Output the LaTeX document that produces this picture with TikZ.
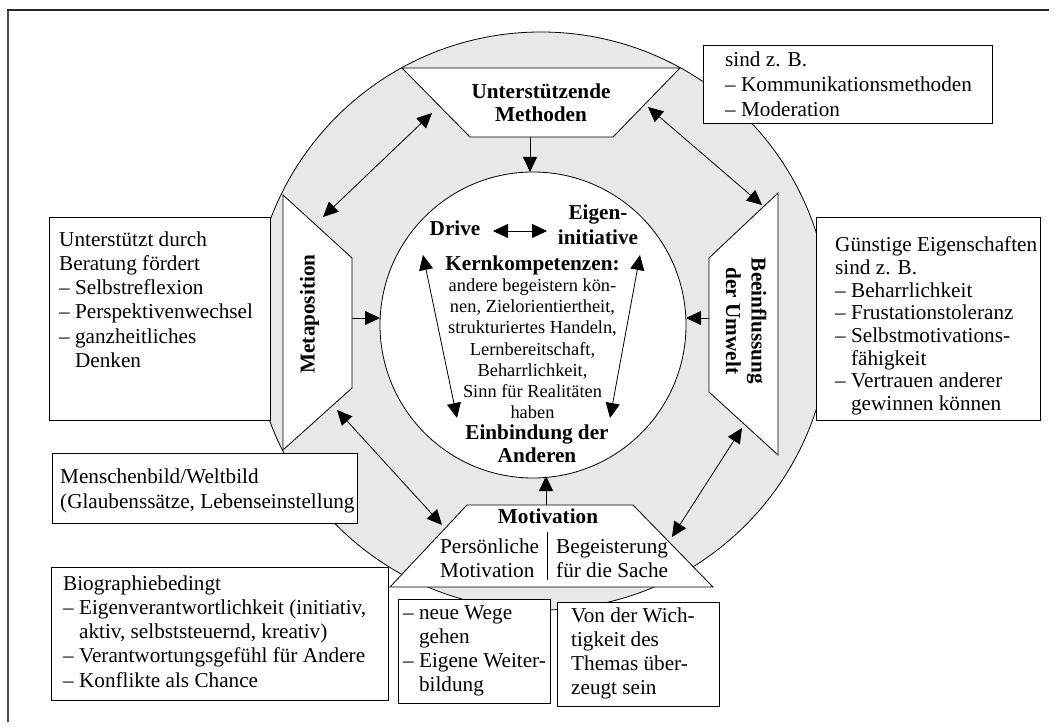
\documentclass[tikz,border=0pt]{standalone}
\usepackage{fontspec}
\setmainfont{Liberation Serif}
\usetikzlibrary{arrows.meta}
\definecolor{ringgray}{RGB}{232,232,232}
\newcommand{\mylines}[2]{\begin{tabular}[t]{@{}#1@{}}#2\end{tabular}}
\begin{document}
\begin{tikzpicture}[x=1pt,y=-1pt,
  txt/.style={font=\fontsize{21.2}{24.3}\selectfont, inner sep=0pt},
  txtr/.style={font=\fontsize{21.2}{22.7}\selectfont, inner sep=0pt},
  btxt/.style={font=\fontsize{21.2}{24.5}\selectfont\bfseries, inner sep=0pt},
  core/.style={font=\fontsize{18.4}{21.1}\selectfont, inner sep=0pt},
  box/.style={draw, fill=white, line width=1.1pt, inner sep=0pt, anchor=north west},
  trap/.style={draw, fill=white, line width=0.8pt, line join=miter},
  dbl/.style={line width=0.8pt, {Triangle[length=15pt,width=14pt]}-{Triangle[length=15pt,width=14pt]}},
  sgl/.style={line width=0.8pt, -{Triangle[length=15pt,width=14pt]}}
]
\useasboundingbox (0,0) rectangle (1056,727);
% frame
\draw[line width=2pt, black!70] (8,722) -- (8,10);
\draw[line width=1.4pt, black!85] (7,10) -- (1049,10);

% ring and core
\node[draw, fill=ringgray, circle, minimum size=578pt, inner sep=0pt, line width=0.8pt] (ring) at (541,321) {};
\node[draw, fill=white, circle, minimum size=306pt, inner sep=0pt, line width=0.8pt] (kern) at (533,325) {};

% trapezoids
\draw[trap] (402,68) -- (680,68) -- (613,137) -- (470,137) -- cycle;
\draw[trap] (283,195) -- (352,258) -- (352,388) -- (283,450) -- cycle;
\draw[trap] (778,193) -- (709,258) -- (709,392) -- (778,455) -- cycle;
\draw[trap] (467,505) -- (633,505) -- (713,587) -- (390,587) -- cycle;
\draw[line width=0.8pt] (547,532) -- (547,580);

% text boxes
\node[box, minimum width=221pt, minimum height=203pt] (bLeft) at (49,217) {};
\node[box, minimum width=289pt, minimum height=78pt] (bTop) at (703,45) {};
\node[box, minimum width=224pt, minimum height=203pt] (bRight) at (816,217) {};
\node[box, minimum width=305pt, minimum height=70pt] (bMensch) at (52,453) {};
\node[box, minimum width=337pt, minimum height=133pt] (bBio) at (51,567) {};
\node[box, minimum width=152pt, minimum height=104pt] (bWege) at (398,599) {};
\node[box, minimum width=162pt, minimum height=104pt] (bWich) at (557,602) {};

% box texts
\node[txt, anchor=base west] (tLeft) at (59,246) {\mylines{l}{Unterstützt durch\\Beratung fördert\\– Selbstreflexion\\– Perspektivenwechsel\\– ganzheitliches\\\phantom{–\ }Denken}};
\node[txt, font=\fontsize{21.2}{25}\selectfont, anchor=base west] (tTop) at (725,66.7) {\mylines{l}{sind z. B.\\– Kommunikationsmethoden\\– Moderation}};
\node[txtr, anchor=base west] (tRight) at (835,251.7) {\mylines{l}{Günstige Eigenschaften\\sind z. B.\\– Beharrlichkeit\\– Frustationstoleranz\\– Selbstmotivations-\\\phantom{–\ }fähigkeit\\– Vertrauen anderer\\\phantom{–\ }gewinnen können}};
\node[txt, font=\fontsize{21.2}{25}\selectfont, anchor=base west] (tMensch) at (60,483) {\mylines{l}{Menschenbild/Weltbild\\(Glaubenssätze, Lebenseinstellung}};
\node[txt, anchor=base west] (tBio) at (63,590) {\mylines{l}{Biographiebedingt\\– Eigenverantwortlichkeit (initiativ,\\\phantom{–\ }aktiv, selbststeuernd, kreativ)\\– Verantwortungsgefühl für Andere\\– Konflikte als Chance}};
\node[txt, anchor=base west] (tWege) at (403,619) {\mylines{l}{– neue Wege\\\phantom{–\ }gehen\\– Eigene Weiter-\\\phantom{–\ }bildung}};
\node[txt, anchor=base west] (tWich) at (571,622) {\mylines{l}{Von der Wich-\\tigkeit des\\Themas über-\\zeugt sein}};

% trapezoid labels
\node[btxt, font=\fontsize{21.2}{23.4}\selectfont\bfseries, anchor=base] (tMeth) at (541,98.3) {\mylines{c}{Unterstützende\\Methoden}};
\node[btxt, rotate=90, anchor=center] (tMeta) at (309.5,314) {Metaposition};
\node[btxt, font=\fontsize{21.2}{25.5}\selectfont\bfseries, rotate=-90, anchor=center] (tBeein) at (744,321) {\mylines{c}{Beeinflussung\\der Umwelt}};
\node[btxt, anchor=base] (tMot) at (548,523) {Motivation};
\node[txt, font=\fontsize{21.2}{24}\selectfont, anchor=base west] (tPers) at (440,553) {\mylines{l}{Persönliche\\Motivation}};
\node[txt, font=\fontsize{21.2}{24}\selectfont, anchor=base west] (tBeg) at (556,553) {\mylines{l}{Begeisterung\\für die Sache}};

% core texts
\node[btxt, anchor=base] (tDrive) at (455,235) {Drive};
\node[btxt, font=\fontsize{21.2}{25}\selectfont\bfseries, anchor=base] (tEigen) at (598,219) {\mylines{c}{Eigen-\\initiative}};
\node[btxt, anchor=base] (tKern) at (532.5,270.7) {Kernkompetenzen:};
\node[core, anchor=base] (tBody) at (532.5,291.7) {\mylines{c}{andere begeistern kön-\\nen, Zielorientiertheit,\\strukturiertes Handeln,\\Lernbereitschaft,\\Beharrlichkeit,\\Sinn für Realitäten\\haben}};
\node[btxt, font=\fontsize{21.2}{23.7}\selectfont\bfseries, anchor=base] (tEinb) at (537,439) {\mylines{c}{Einbindung der\\Anderen}};

% connector end points
\coordinate (mB) at (530,137);  \coordinate (kT) at (530,172);
\coordinate (metR) at (352,318); \coordinate (kL) at (380,318);
\coordinate (beeL) at (709,318); \coordinate (kR) at (686,318);
\coordinate (motT) at (546,505); \coordinate (kB) at (546,476);
\coordinate (d1) at (323,217); \coordinate (d2) at (432,113);
\coordinate (e1) at (648,107); \coordinate (e2) at (762,205);
\coordinate (f1) at (337,410); \coordinate (f2) at (442,525);
\coordinate (g1) at (742,428); \coordinate (g2) at (672,537);
\coordinate (h1) at (493,231); \coordinate (h2) at (547,231);
\coordinate (i1) at (423,255); \coordinate (i2) at (457,418);
\coordinate (j1) at (640,255); \coordinate (j2) at (610,418);

\draw[sgl] (mB) -- (kT);
\draw[sgl] (metR) -- (kL);
\draw[sgl] (beeL) -- (kR);
\draw[sgl] (motT) -- (kB);
\draw[dbl] (d1) -- (d2);
\draw[dbl] (e1) -- (e2);
\draw[dbl] (f1) -- (f2);
\draw[dbl] (g1) -- (g2);
\draw[dbl] (h1) -- (h2);
\draw[dbl] (i1) -- (i2);
\draw[dbl] (j1) -- (j2);
\end{tikzpicture}
\end{document}
